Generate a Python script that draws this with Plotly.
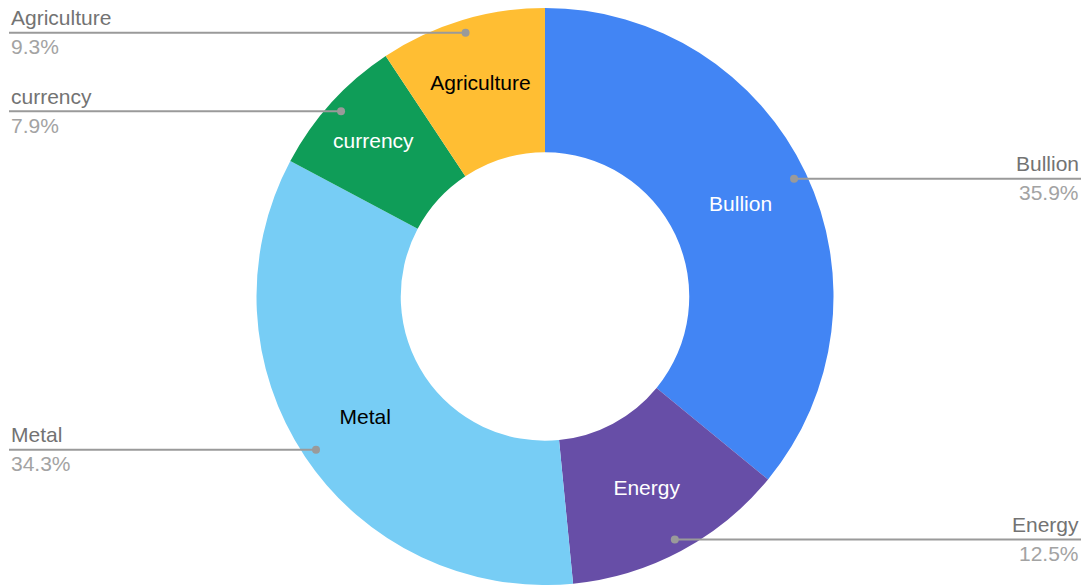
import math
import plotly.graph_objects as go

categories = ["Bullion", "Energy", "Metal", "currency", "Agriculture"]
shares = [35.9, 12.5, 34.3, 7.9, 9.3]
percent_labels = ["35.9%", "12.5%", "34.3%", "7.9%", "9.3%"]
colors = ["#4285F4", "#674EA7", "#77CDF5", "#0F9D58", "#FFBE33"]
inside_text_colors = ["#FFFFFF", "#FFFFFF", "#000000", "#FFFFFF", "#000000"]

W, H = 1086, 585
FONT = "Liberation Sans, Arial, sans-serif"

# pie geometry (pixels, measured from top-left)
cx, cy = 545.0, 296.5
R = H - cy
dom_x = [(cx - R) / W, (cx + R) / W]
dom_y = [0.0, 2 * R / H]

fig = go.Figure()
fig.add_trace(go.Pie(
    labels=categories,
    values=shares,
    hole=0.5,
    sort=False,
    direction="clockwise",
    rotation=0,
    marker=dict(colors=colors, line=dict(width=0)),
    textinfo="label",
    textposition="inside",
    insidetextorientation="horizontal",
    insidetextfont=dict(family=FONT, size=21, color=inside_text_colors),
    domain=dict(x=dom_x, y=dom_y),
    hoverinfo="label+percent",
))

shapes = []
annotations = []
total = sum(shares)
cum = 0.0
rd = 0.955 * R
for name, v, pl in zip(categories, shares, percent_labels):
    f = (cum + v / 2.0) / total
    cum += v
    th = 2 * math.pi * f
    px = cx + rd * math.sin(th)
    py = cy - rd * math.cos(th)
    left = math.sin(th) < 0
    xe = 9.0 if left else 1081.0
    shapes.append(dict(type="line", xref="paper", yref="paper", layer="above",
                       x0=px / W, x1=xe / W, y0=1 - py / H, y1=1 - py / H,
                       line=dict(color="#9a9a9a", width=2)))
    r = 4.0
    shapes.append(dict(type="circle", xref="paper", yref="paper", layer="above",
                       x0=(px - r) / W, x1=(px + r) / W,
                       y0=1 - (py + r) / H, y1=1 - (py - r) / H,
                       fillcolor="#9a9a9a", line=dict(width=0)))
    anchor = "left" if left else "right"
    annotations.append(dict(x=xe / W, y=1 - py / H, xref="paper", yref="paper",
                            text=name, showarrow=False, xanchor=anchor, yanchor="middle",
                            yshift=15, font=dict(family=FONT, size=21, color="#737373")))
    annotations.append(dict(x=xe / W, y=1 - py / H, xref="paper", yref="paper",
                            text=pl, showarrow=False, xanchor=anchor, yanchor="middle",
                            yshift=-14, font=dict(family=FONT, size=21, color="#a3a3a3")))

fig.update_layout(
    width=W, height=H,
    margin=dict(l=0, r=0, t=0, b=0),
    paper_bgcolor="white", plot_bgcolor="white",
    showlegend=False,
    shapes=shapes,
    annotations=annotations,
)

fig.write_html(
    "out.html",
    config={"displayModeBar": False},
    post_script="document.body.style.margin='0';document.body.style.overflow='hidden';",
)
